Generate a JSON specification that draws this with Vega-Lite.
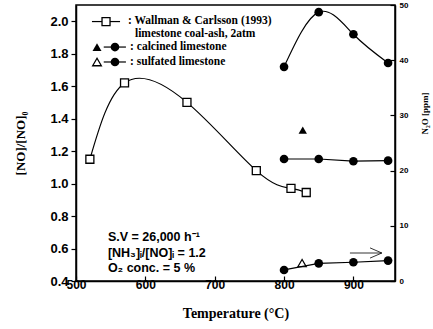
{
  "$schema": "https://vega.github.io/schema/vega-lite/v6.json",
  "autosize": "none",
  "width": 319,
  "height": 276,
  "padding": {"left": 76, "top": 5, "right": 38, "bottom": 48},
  "background": "white",
  "config": {
    "view": {"stroke": "black", "strokeWidth": 1.5},
    "axis": {"grid": false, "domainColor": "black", "domainWidth": 1.5, "tickColor": "black", "tickWidth": 1.2, "labelColor": "black", "titleColor": "black", "labelFlush": false}
  },
  "datasets": {
    "wallman": [
      {"T": 520, "v": 1.15},
      {"T": 570, "v": 1.62},
      {"T": 660, "v": 1.50},
      {"T": 760, "v": 1.08},
      {"T": 810, "v": 0.97},
      {"T": 832, "v": 0.945}
    ],
    "tri": [
      {"T": 827, "v": 1.33, "kind": "calcined"},
      {"T": 826, "v": 0.51, "kind": "sulfated"}
    ],
    "n2o": [
      {"T": 800, "n": 38.8, "series": "upper"},
      {"T": 850, "n": 48.7, "series": "upper"},
      {"T": 900, "n": 44.7, "series": "upper"},
      {"T": 950, "n": 39.5, "series": "upper"},
      {"T": 800, "n": 22.1, "series": "middle"},
      {"T": 850, "n": 22.1, "series": "middle"},
      {"T": 900, "n": 21.7, "series": "middle"},
      {"T": 950, "n": 21.8, "series": "middle"},
      {"T": 800, "n": 2.0, "series": "lower"},
      {"T": 850, "n": 3.2, "series": "lower"},
      {"T": 900, "n": 3.4, "series": "lower"},
      {"T": 950, "n": 3.7, "series": "lower"}
    ],
    "legline": [
      {"T": 523, "v": 1.998, "row": 1},
      {"T": 563.5, "v": 1.998, "row": 1},
      {"T": 540, "v": 1.841, "row": 3},
      {"T": 572, "v": 1.841, "row": 3},
      {"T": 540, "v": 1.749, "row": 4},
      {"T": 572, "v": 1.749, "row": 4}
    ],
    "legsym": [
      {"T": 543.3, "v": 1.998, "sym": "square"},
      {"T": 530.3, "v": 1.841, "sym": "trifill"},
      {"T": 530.3, "v": 1.749, "sym": "triopen"},
      {"T": 556.2, "v": 1.841, "sym": "circle"},
      {"T": 556.2, "v": 1.749, "sym": "circle"}
    ],
    "legtext": [
      {"T": 575, "v": 2.002, "label": ": Wallman & Carlsson (1993)"},
      {"T": 585, "v": 1.921, "label": "limestone coal-ash, 2atm"},
      {"T": 578, "v": 1.841, "label": ": calcined limestone"},
      {"T": 578, "v": 1.749, "label": ": sulfated limestone"}
    ],
    "notes": [
      {"T": 546, "v": 0.671, "label": "S.V = 26,000 h⁻¹"},
      {"T": 546, "v": 0.573, "label": "[NH₃]ᵢ/[NO]ᵢ = 1.2"},
      {"T": 546, "v": 0.48, "label": "O₂ conc. = 5 %"}
    ],
    "arrow": [
      {"T": 895, "n": 5.07, "part": "shaft", "o": 1},
      {"T": 941, "n": 5.07, "part": "shaft", "o": 2},
      {"T": 924, "n": 6.0, "part": "head", "o": 1},
      {"T": 941, "n": 5.07, "part": "head", "o": 2},
      {"T": 924, "n": 4.15, "part": "head", "o": 3}
    ]
  },
  "layer": [
    {
      "encoding": {
        "x": {
          "field": "T", "type": "quantitative",
          "scale": {"domain": [500, 960], "nice": false, "zero": false},
          "axis": {
            "values": [500, 600, 700, 800, 900],
            "tickSize": -5, "labelPadding": 3,
            "labelFont": "Liberation Sans", "labelFontWeight": "bold", "labelFontSize": 12,
            "title": "Temperature (°C)", "titleFont": "Liberation Serif", "titleFontWeight": "bold", "titleFontSize": 14, "titlePadding": 16
          }
        },
        "y": {
          "field": "v", "type": "quantitative",
          "scale": {"domain": [0.4, 2.1], "nice": false, "zero": false},
          "axis": {
            "orient": "left",
            "values": [0.4, 0.6, 0.8, 1.0, 1.2, 1.4, 1.6, 1.8, 2.0],
            "format": ".1f",
            "tickSize": 5, "labelPadding": 3,
            "labelFont": "Liberation Sans", "labelFontWeight": "bold", "labelFontSize": 13,
            "title": "[NO]/[NO]₀", "titleFont": "Liberation Serif", "titleFontWeight": "bold", "titleFontSize": 13, "titlePadding": 22
          }
        }
      },
      "layer": [
        {"data": {"name": "wallman"}, "mark": {"type": "line", "interpolate": "natural", "color": "black", "strokeWidth": 1.2}},
        {"data": {"name": "wallman"}, "mark": {"type": "point", "shape": "square", "size": 64, "fill": "white", "stroke": "black", "strokeWidth": 1.3, "opacity": 1}},
        {"data": {"name": "tri"}, "transform": [{"filter": "datum.kind === 'calcined'"}], "mark": {"type": "point", "shape": "triangle-up", "size": 70, "filled": true, "color": "black", "opacity": 1}},
        {"data": {"name": "tri"}, "transform": [{"filter": "datum.kind === 'sulfated'"}], "mark": {"type": "point", "shape": "triangle-up", "size": 70, "fill": "white", "stroke": "black", "strokeWidth": 1.2, "opacity": 1}},
        {"data": {"name": "legline"}, "mark": {"type": "line", "color": "black", "strokeWidth": 1.2}, "encoding": {"detail": {"field": "row"}}},
        {"data": {"name": "legsym"}, "transform": [{"filter": "datum.sym === 'square'"}], "mark": {"type": "point", "shape": "square", "size": 64, "fill": "white", "stroke": "black", "strokeWidth": 1.3, "opacity": 1}},
        {"data": {"name": "legsym"}, "transform": [{"filter": "datum.sym === 'trifill'"}], "mark": {"type": "point", "shape": "triangle-up", "size": 80, "filled": true, "color": "black", "opacity": 1}},
        {"data": {"name": "legsym"}, "transform": [{"filter": "datum.sym === 'triopen'"}], "mark": {"type": "point", "shape": "triangle-up", "size": 75, "fill": "white", "stroke": "black", "strokeWidth": 1.3, "opacity": 1}},
        {"data": {"name": "legsym"}, "transform": [{"filter": "datum.sym === 'circle'"}], "mark": {"type": "circle", "size": 75, "color": "black", "opacity": 1}},
        {"data": {"name": "legtext"}, "mark": {"type": "text", "align": "left", "baseline": "middle", "font": "Liberation Serif", "fontWeight": "bold", "fontSize": 11.5, "color": "black"}, "encoding": {"text": {"field": "label"}}},
        {"data": {"name": "notes"}, "mark": {"type": "text", "align": "left", "baseline": "middle", "font": "Liberation Sans", "fontWeight": "bold", "fontSize": 12.5, "color": "black"}, "encoding": {"text": {"field": "label"}}}
      ]
    },
    {
      "encoding": {
        "x": {
          "field": "T", "type": "quantitative",
          "scale": {"domain": [500, 960], "nice": false, "zero": false},
          "axis": {
            "values": [500, 600, 700, 800, 900],
            "tickSize": -5, "labelPadding": 3,
            "labelFont": "Liberation Sans", "labelFontWeight": "bold", "labelFontSize": 12,
            "title": "Temperature (°C)", "titleFont": "Liberation Serif", "titleFontWeight": "bold", "titleFontSize": 14, "titlePadding": 16
          }
        },
        "y": {
          "field": "n", "type": "quantitative",
          "scale": {"domain": [0, 50], "nice": false},
          "axis": {
            "orient": "right",
            "values": [0, 10, 20, 30, 40, 50],
            "tickSize": -5, "labelPadding": 9,
            "labelFont": "Liberation Sans", "labelFontWeight": "bold", "labelFontSize": 8,
            "title": "N₂O [ppm]", "titleFont": "Liberation Serif", "titleFontWeight": "bold", "titleFontSize": 9, "titleAngle": 270,
            "titleX": 29, "titleY": 108, "titleAlign": "center", "titleBaseline": "middle"
          }
        }
      },
      "layer": [
        {"data": {"name": "n2o"}, "transform": [{"filter": "datum.series === 'upper'"}], "mark": {"type": "line", "interpolate": "natural", "color": "black", "strokeWidth": 1.2}},
        {"data": {"name": "n2o"}, "transform": [{"filter": "datum.series !== 'upper'"}], "mark": {"type": "line", "color": "black", "strokeWidth": 1.2}, "encoding": {"detail": {"field": "series"}}},
        {"data": {"name": "n2o"}, "mark": {"type": "circle", "size": 75, "color": "black", "opacity": 1}},
        {"data": {"name": "arrow"}, "mark": {"type": "line", "color": "black", "strokeWidth": 0.8}, "encoding": {"detail": {"field": "part"}, "order": {"field": "o"}}}
      ]
    }
  ],
  "resolve": {"scale": {"y": "independent"}}
}
